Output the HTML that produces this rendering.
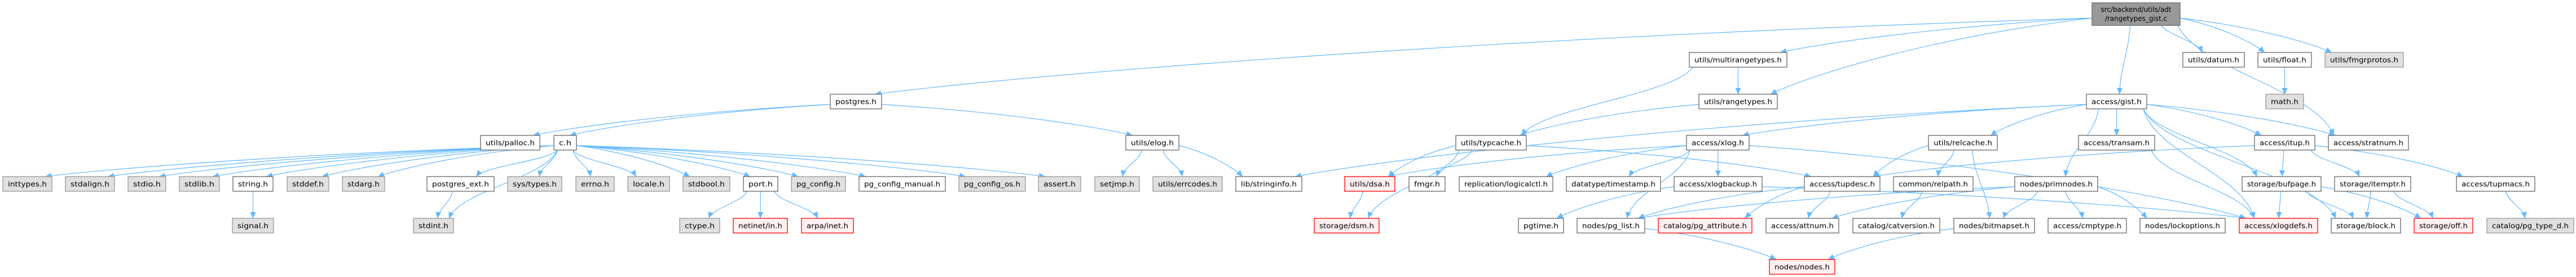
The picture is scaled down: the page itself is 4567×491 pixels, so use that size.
<!DOCTYPE html>
<html><head><meta charset="utf-8">
<style>
html,body{margin:0;padding:0;background:#fff;}
svg{display:block;}
text{font-family:"DejaVu Sans","Liberation Sans",sans-serif;font-size:12px;fill:#000;}
.w{fill:#fff;stroke:#666;stroke-width:1.3}
.g{fill:#e0e0e0;stroke:#999;stroke-width:1.3}
.r{fill:#fff0f0;stroke:#f00;stroke-width:1.3}
.k{fill:#999;stroke:#666;stroke-width:1.3}
.e{fill:none;stroke:#63b8ff;stroke-width:1.2}
</style></head><body>
<svg id="s" width="4567" height="491" viewBox="0 0 4567 491" xmlns="http://www.w3.org/2000/svg">
<defs><marker id="a" markerWidth="12" markerHeight="10" refX="11" refY="5" orient="auto" markerUnits="userSpaceOnUse"><path d="M0,0 L11,5 L0,10 z" fill="#63b8ff"/></marker></defs>
<g id="edges"></g>
<g id="nodes">
<rect class="k" x="3709" y="5" width="156" height="40"/><text x="3787" y="21" text-anchor="middle">src/backend/utils/adt</text><text x="3787" y="37" text-anchor="middle">/rangetypes_gist.c</text>
</g>
</svg>
<script>
var R=[0,93,167,240,313,387,460];
var N={
postgres:[1472,1563,2,'w','postgres.h'],
multi:[2995,3168,1,'w','utils/multirangetypes.h'],
rangetypes:[3012,3151,2,'w','utils/rangetypes.h'],
gist:[3699,3806,2,'w','access/gist.h'],
datum:[3870,3979,1,'w','utils/datum.h'],
float:[4003,4098,1,'w','utils/float.h'],
fmgrprotos:[4122,4261,1,'g','utils/fmgrprotos.h'],
math:[4017,4084,2,'g','math.h'],
stratnum:[4128,4270,3,'w','access/stratnum.h'],
palloc:[852,957,3,'w','utils/palloc.h'],
c:[982,1022,3,'w','c.h'],
elog:[1996,2090,3,'w','utils/elog.h'],
typcache:[2581,2706,3,'w','utils/typcache.h'],
xlog:[2990,3101,3,'w','access/xlog.h'],
relcache:[3419,3541,3,'w','utils/relcache.h'],
transam:[3685,3820,3,'w','access/transam.h'],
itup:[3997,4104,3,'w','access/itup.h'],
inttypes:[5,92,4,'g','inttypes.h'],
stdalign:[116,203,4,'g','stdalign.h'],
stdio:[227,294,4,'g','stdio.h'],
stdlib:[318,389,4,'g','stdlib.h'],
string:[413,484,4,'w','string.h'],
stddef:[509,583,4,'g','stddef.h'],
stdarg:[607,682,4,'g','stdarg.h'],
pgext:[757,876,4,'w','postgres_ext.h'],
systypes:[900,996,4,'g','sys/types.h'],
errno:[1021,1089,4,'g','errno.h'],
locale:[1113,1187,4,'g','locale.h'],
stdbool:[1211,1294,4,'g','stdbool.h'],
port:[1318,1379,4,'w','port.h'],
pgconfig:[1403,1499,4,'g','pg_config.h'],
pgmanual:[1523,1676,4,'w','pg_config_manual.h'],
pgos:[1700,1818,4,'g','pg_config_os.h'],
assert:[1841,1916,4,'g','assert.h'],
setjmp:[1941,2020,4,'g','setjmp.h'],
errcodes:[2044,2167,4,'g','utils/errcodes.h'],
stringinfo:[2191,2308,4,'w','lib/stringinfo.h'],
dsa:[2384,2473,4,'r','utils/dsa.h'],
fmgr:[2498,2562,4,'w','fmgr.h'],
logicalctl:[2587,2753,4,'w','replication/logicalctl.h'],
timestamp:[2777,2944,4,'w','datatype/timestamp.h'],
xlogbackup:[2968,3124,4,'w','access/xlogbackup.h'],
tupdesc:[3199,3333,4,'w','access/tupdesc.h'],
relpath:[3357,3498,4,'w','common/relpath.h'],
primnodes:[3572,3719,4,'w','nodes/primnodes.h'],
bufpage:[3975,4115,4,'w','storage/bufpage.h'],
itemptr:[4139,4274,4,'w','storage/itemptr.h'],
tupmacs:[4355,4494,4,'w','access/tupmacs.h'],
signal:[412,485,5,'g','signal.h'],
stdint:[733,804,5,'g','stdint.h'],
ctype:[1205,1276,5,'g','ctype.h'],
netinet:[1300,1396,5,'r','netinet/in.h'],
arpa:[1421,1513,5,'r','arpa/inet.h'],
dsm:[2330,2445,5,'r','storage/dsm.h'],
pgtime:[2692,2772,5,'w','pgtime.h'],
pglist:[2796,2916,5,'w','nodes/pg_list.h'],
pgattr:[2940,3106,5,'r','catalog/pg_attribute.h'],
attnum:[3131,3260,5,'w','access/attnum.h'],
catversion:[3285,3439,5,'w','catalog/catversion.h'],
bitmapset:[3464,3607,5,'w','nodes/bitmapset.h'],
cmptype:[3631,3770,5,'w','access/cmptype.h'],
lockoptions:[3794,3945,5,'w','nodes/lockoptions.h'],
xlogdefs:[3970,4109,5,'r','access/xlogdefs.h'],
block:[4133,4256,5,'w','storage/block.h'],
off:[4280,4384,5,'r','storage/off.h'],
pgtyped:[4409,4563,5,'g','catalog/pg_type_d.h'],
nodes:[3137,3253,6,'r','nodes/nodes.h']
};
var ns='http://www.w3.org/2000/svg';
var gN=document.getElementById('nodes'),gE=document.getElementById('edges');
for(var k in N){var n=N[k];var r=document.createElementNS(ns,'rect');
r.setAttribute('class',n[3]);r.setAttribute('x',n[0]);r.setAttribute('y',R[n[2]]);r.setAttribute('width',n[1]-n[0]);r.setAttribute('height',26);gN.appendChild(r);
var t=document.createElementNS(ns,'text');t.setAttribute('x',(n[0]+n[1])/2);t.setAttribute('y',R[n[2]]+17.5);t.setAttribute('text-anchor','middle');
t.setAttribute('textLength',(n[1]-n[0])-18);t.setAttribute('lengthAdjust','spacingAndGlyphs');t.textContent=n[4];gN.appendChild(t);}
N.root=[3709,3865,0,'k',''];
function box(k){var n=N[k];var top=R[n[2]];var h=k=='root'?40:26;return {x1:n[0],x2:n[1],cx:(n[0]+n[1])/2,t:top,b:top+h};}
function cl(v,a,b){return Math.max(a,Math.min(b,v));}
function E(a,b){var A=box(a),B=box(b);var d;
var dy=B.t-A.b;var dx=B.cx-A.cx;
if(Math.abs(dx)>4*Math.max(dy,20)){
 var sx=dx<0?A.x1:A.x2, sy=A.b-8;
 var tx=dx<0?cl(B.x2-12,B.x1,B.x2):cl(B.x1+12,B.x1,B.x2), ty=B.t;
 d='M'+sx+','+sy+' C'+(sx+(tx-sx)*0.5)+','+(sy+(ty-sy)*0.25)+' '+(tx-(tx-sx)*0.12)+','+(ty-(ty-sy)*0.25)+' '+tx+','+ty;
}else{
 var sx=cl(A.cx+dx*0.3,A.x1+6,A.x2-6), sy=A.b;
 var tx=cl(B.cx-dx*0.15,B.x1+8,B.x2-8), ty=B.t;
 d='M'+sx+','+sy+' C'+(sx+(tx-sx)*0.1)+','+(sy+dy*0.4)+' '+(tx-(tx-sx)*0.1)+','+(ty-dy*0.4)+' '+tx+','+ty;
}
var p=document.createElementNS(ns,'path');p.setAttribute('class','e');p.setAttribute('d',d);p.setAttribute('marker-end','url(#a)');gE.appendChild(p);}
var L=[['root','postgres'],['root','multi'],['root','rangetypes'],['root','gist'],['root','datum'],['root','float'],['root','fmgrprotos'],['root','stratnum'],
['postgres','palloc'],['postgres','c'],['postgres','elog'],
['c','inttypes'],['c','stdalign'],['c','stdio'],['c','stdlib'],['c','string'],['c','stddef'],['c','stdarg'],['c','pgext'],['c','systypes'],['c','errno'],['c','locale'],['c','stdbool'],['c','port'],['c','pgconfig'],['c','pgmanual'],['c','pgos'],['c','assert'],['c','stdint'],
['string','signal'],['pgext','stdint'],['port','ctype'],['port','netinet'],['port','arpa'],
['elog','setjmp'],['elog','errcodes'],['elog','stringinfo'],
['multi','typcache'],['multi','rangetypes'],['rangetypes','typcache'],['float','math'],
['typcache','dsa'],['typcache','fmgr'],['typcache','tupdesc'],['typcache','dsm'],['dsa','dsm'],
['gist','xlog'],['gist','relcache'],['gist','primnodes'],['gist','transam'],['gist','itup'],['gist','bufpage'],['gist','stratnum'],['gist','xlogdefs'],['gist','stringinfo'],['gist','block'],
['xlog','dsa'],['xlog','logicalctl'],['xlog','timestamp'],['xlog','xlogbackup'],['xlog','pglist'],['xlog','xlogdefs'],
['xlogbackup','pgtime'],['xlogbackup','xlogdefs'],
['relcache','tupdesc'],['relcache','relpath'],['relcache','bitmapset'],
['tupdesc','pglist'],['tupdesc','pgattr'],['tupdesc','attnum'],['relpath','catversion'],
['primnodes','pglist'],['primnodes','attnum'],['primnodes','bitmapset'],['primnodes','cmptype'],['primnodes','lockoptions'],
['pglist','nodes'],['bitmapset','nodes'],['transam','xlogdefs'],
['itup','tupdesc'],['itup','bufpage'],['itup','itemptr'],['itup','tupmacs'],
['bufpage','xlogdefs'],['bufpage','block'],['bufpage','off'],['itemptr','block'],['itemptr','off'],['tupmacs','pgtyped']];
L.forEach(function(e){E(e[0],e[1]);});
</script>
</body></html>
